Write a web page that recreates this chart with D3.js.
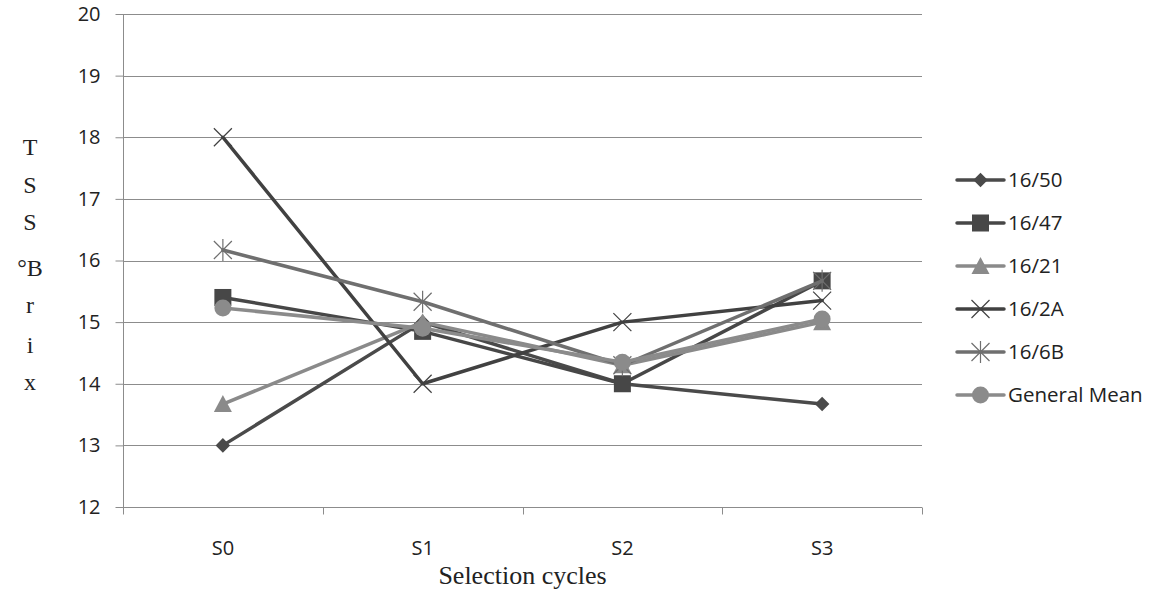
<!DOCTYPE html>
<html>
<head>
<meta charset="utf-8">
<script src="https://cdn.jsdelivr.net/npm/d3@7"></script>
<style>
  body { margin: 0; background: #fff; }
  svg { display: block; }
</style>
</head>
<body>
<svg id="chart" width="1158" height="595"></svg>
<script>
// Selection cycles on the x axis
const cycles = ["S0", "S1", "S2", "S3"];
// TSS (°Brix) per line, per cycle
const s16_50 = [13.0, 15.0, 14.0, 13.67];
const s16_47 = [15.4, 14.85, 14.0, 15.67];
const s16_21 = [13.67, 15.0, 14.3, 15.0];
const s16_2A = [18.0, 14.0, 15.0, 15.35];
const s16_6B = [16.17, 15.33, 14.3, 15.67];
const generalMean = [15.23, 14.9, 14.35, 15.05];
const seriesNames = ["16/50", "16/47", "16/21", "16/2A", "16/6B", "General Mean"];
const yTicks = [12, 13, 14, 15, 16, 17, 18, 19, 20];
const yTitle = ["T", "S", "S", "°B", "r", "i", "x"];

const series = [
  { name: seriesNames[0], values: s16_50, color: "#4a4a4a", marker: "diamond" },
  { name: seriesNames[1], values: s16_47, color: "#474747", marker: "square" },
  { name: seriesNames[2], values: s16_21, color: "#8a8a8a", marker: "triangle" },
  { name: seriesNames[3], values: s16_2A, color: "#414141", marker: "x" },
  { name: seriesNames[4], values: s16_6B, color: "#6f6f6f", marker: "star" },
  { name: seriesNames[5], values: generalMean, color: "#8b8b8b", marker: "circle" }
];

const svg = d3.select("#chart");
const plot = { left: 123, right: 922, top: 14, bottom: 507 };

const x = d3.scaleBand().domain(cycles).range([plot.left, plot.right]);
const y = d3.scaleLinear().domain([12, 20]).range([plot.bottom, plot.top]);
const cx = c => x(c) + x.bandwidth() / 2;

const gridColor = "#8c8c8c";
const labelFont = "Open Sans, Liberation Sans, sans-serif";
const serifFont = "Liberation Serif, Times New Roman, serif";

// horizontal gridlines
svg.append("g").selectAll("line").data(yTicks.slice(1)).join("line")
  .attr("x1", plot.left).attr("x2", plot.right)
  .attr("y1", d => Math.round(y(d)) + 0.5).attr("y2", d => Math.round(y(d)) + 0.5)
  .attr("stroke", gridColor).attr("stroke-width", 1);

// y axis
const yAxis = svg.append("g")
  .attr("transform", `translate(${plot.left + 0.5},0)`)
  .call(d3.axisLeft(y).tickValues(yTicks).tickSize(8).tickPadding(15).tickFormat(d3.format("d")));
yAxis.attr("font-size", 20).attr("font-family", labelFont);
yAxis.select(".domain").attr("stroke", gridColor).attr("d", `M0,${plot.top}V${plot.bottom}`);
yAxis.selectAll(".tick line").attr("stroke", gridColor);
yAxis.selectAll(".tick text").attr("fill", "#222");

// x axis
const xAxis = svg.append("g")
  .attr("transform", `translate(0,${Math.round(plot.bottom) + 0.5})`)
  .call(d3.axisBottom(x).tickSize(0).tickPadding(33));
xAxis.attr("font-size", 20).attr("font-family", labelFont);
xAxis.select(".domain").attr("stroke", gridColor).attr("d", `M${plot.left},0H${plot.right}`);
xAxis.selectAll(".tick text").attr("fill", "#222");
// category boundary ticks
const bounds = cycles.map(c => x(c)).concat([x(cycles[cycles.length - 1]) + x.bandwidth()]);
xAxis.selectAll("line.bound").data(bounds).join("line").attr("class", "bound")
  .attr("x1", d => Math.round(d) + 0.5).attr("x2", d => Math.round(d) + 0.5)
  .attr("y1", 0).attr("y2", 7).attr("stroke", gridColor);

// axis titles
svg.append("text").attr("x", (plot.left + plot.right) / 2).attr("y", 584)
  .attr("text-anchor", "middle").attr("font-family", serifFont)
  .attr("font-size", 26).attr("fill", "#222").text("Selection cycles");

const yTitleY = [155, 193, 230, 276, 313, 353, 390];
svg.append("g").selectAll("text").data(yTitle).join("text")
  .attr("x", 30).attr("y", (d, i) => yTitleY[i])
  .attr("text-anchor", "middle").attr("font-family", serifFont)
  .attr("font-size", 24).attr("fill", "#222").text(d => d);

// marker shapes
function drawMarker(g, type, color, px, py) {
  if (type === "diamond") {
    g.append("path").attr("d", d3.symbol(d3.symbolDiamond2, 135)()).attr("transform", `translate(${px},${py})`).attr("fill", color);
  } else if (type === "square") {
    g.append("rect").attr("x", px - 8.5).attr("y", py - 8.5).attr("width", 17).attr("height", 17).attr("fill", color);
  } else if (type === "triangle") {
    g.append("path").attr("d", `M${px},${py - 9}L${px + 9},${py + 8}L${px - 9},${py + 8}Z`).attr("fill", color);
  } else if (type === "circle") {
    g.append("circle").attr("cx", px).attr("cy", py).attr("r", 8.5).attr("fill", color);
  } else if (type === "x") {
    g.append("path").attr("d", `M${px - 9},${py - 9}L${px + 9},${py + 9}M${px - 9},${py + 9}L${px + 9},${py - 9}`)
      .attr("stroke", color).attr("stroke-width", 1.2).attr("fill", "none");
  } else if (type === "star") {
    g.append("path").attr("d", `M${px - 9},${py - 9}L${px + 9},${py + 9}M${px - 9},${py + 9}L${px + 9},${py - 9}M${px},${py - 11}V${py + 11}`)
      .attr("stroke", color).attr("stroke-width", 1.2).attr("fill", "none");
  }
}

const line = d3.line().x((d, i) => cx(cycles[i])).y(d => y(d));

series.forEach(s => {
  const g = svg.append("g");
  g.append("path").datum(s.values).attr("d", line)
    .attr("fill", "none").attr("stroke", s.color).attr("stroke-width", 3.5)
    .attr("stroke-linejoin", "round").attr("stroke-linecap", "round");
  s.values.forEach((v, i) => drawMarker(g, s.marker, s.color, cx(cycles[i]), y(v)));
});

// legend
const legend = svg.append("g");
series.forEach((s, i) => {
  const ly = 180 + i * 43;
  const g = legend.append("g");
  g.append("line").attr("x1", 957).attr("x2", 1004).attr("y1", ly).attr("y2", ly)
    .attr("stroke", s.color).attr("stroke-width", 3.5).attr("stroke-linecap", "round");
  drawMarker(g, s.marker, s.color, 980.5, ly);
  g.append("text").attr("x", 1008).attr("y", ly + 7).attr("font-family", labelFont)
    .attr("font-size", 20.5).attr("fill", "#222").text(s.name);
});
</script>
</body>
</html>
